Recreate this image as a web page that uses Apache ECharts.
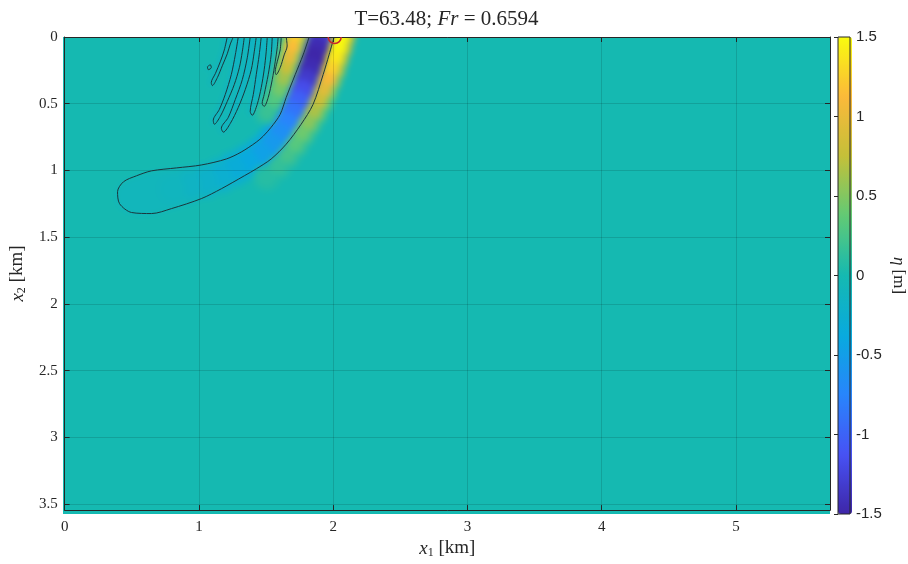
<!DOCTYPE html>
<html>
<head>
<meta charset="utf-8">
<script src="https://cdn.jsdelivr.net/npm/echarts@6.0.0/dist/echarts.min.js"></script>
<style>
  html, body { margin: 0; padding: 0; background: #fff; }
  #stage { position: relative; width: 908px; height: 564px; overflow: hidden; }
  /* the surface field is rendered on its own layer, softened, and clipped to the plot box */
  #fieldClip { position: absolute; left: 63px; top: 37px; width: 767px; height: 477px; overflow: hidden; }
  #field { position: absolute; left: -24px; top: -24px; width: 815px; height: 525px; filter: blur(3px); }
  #main { position: absolute; left: 0; top: 0; width: 908px; height: 564px; }
</style>
</head>
<body>
<div id="stage">
  <div id="fieldClip"><div id="field"></div></div>
  <div id="main"></div>
</div>
<script>
// ---- domain ----
const X_MAX = 5.7;      // x1 extent [km]
const Y_MAX = 3.545;    // x2 extent [km]
const ETA_MIN = -1.5;   // colour limits for eta [m]
const ETA_MAX = 1.5;
const X_INTERVAL = 1;
const Y_INTERVAL = 0.5;
const ETA_INTERVAL = 0.5;
const TIME = '63.48';
const FROUDE = '0.6594';

// parula-like colour map, evenly spaced from ETA_MIN to ETA_MAX
const PARULA = ['#3e26a8', '#4752f4', '#2885fc', '#08aade', '#15b9b1',
                '#61ca75', '#c4c039', '#fbb93a', '#f9fb0e'];

// ---- wake field: crest / trough ridge lines [x1, x2, eta on ridge, eta at ridge flank] ----
const troughBand = [
  [1.914, 0.00, -1.30, -0.70],
  [1.888, 0.08, -1.45, -0.80],
  [1.862, 0.16, -1.50, -0.82],
  [1.834, 0.24, -1.45, -0.80],
  [1.806, 0.32, -1.33, -0.74],
  [1.776, 0.40, -1.18, -0.66],
  [1.742, 0.48, -1.02, -0.58],
  [1.703, 0.56, -0.88, -0.52],
  [1.660, 0.64, -0.76, -0.46],
  [1.610, 0.72, -0.65, -0.40],
  [1.550, 0.80, -0.55, -0.35],
  [1.470, 0.87, -0.47, -0.30],
  [1.370, 0.93, -0.39, -0.26],
  [1.270, 0.98, -0.32, -0.22],
  [1.170, 1.03, -0.26, -0.18],
  [1.060, 1.07, -0.20, -0.15],
  [0.940, 1.10, -0.15, -0.12],
  [0.820, 1.13, -0.11, -0.09]
];
const leftCrest = [
  [1.724, 0.00, 1.25, 0.55],
  [1.702, 0.08, 1.15, 0.50],
  [1.680, 0.16, 0.98, 0.42],
  [1.657, 0.24, 0.80, 0.35],
  [1.632, 0.32, 0.62, 0.28],
  [1.600, 0.40, 0.45, 0.20],
  [1.560, 0.48, 0.30, 0.14],
  [1.515, 0.56, 0.18, 0.09]
];
const rightCrest = [
  [2.066, 0.00, 1.50, 0.75],
  [2.045, 0.08, 1.48, 0.72],
  [2.020, 0.16, 1.40, 0.66],
  [1.995, 0.24, 1.26, 0.60],
  [1.966, 0.32, 1.10, 0.52],
  [1.934, 0.40, 0.95, 0.45],
  [1.900, 0.48, 0.80, 0.38],
  [1.860, 0.56, 0.66, 0.32],
  [1.815, 0.64, 0.53, 0.26],
  [1.768, 0.72, 0.42, 0.21],
  [1.718, 0.80, 0.32, 0.16],
  [1.660, 0.88, 0.23, 0.12],
  [1.592, 0.96, 0.15, 0.09],
  [1.515, 1.04, 0.09, 0.06]
];

// ---- contour lines [x1, x2] ----
const OUTER_LEVEL = -0.08;   // eta inside the large closed contour
const RIPPLE_LEVEL = -0.2;   // eta inside the short ripple contours
const outerContour = [
  [2.007, 0.000], [1.969, 0.134], [1.925, 0.282], [1.850, 0.505], [1.761, 0.654],
  [1.650, 0.803], [1.538, 0.914], [1.427, 0.988], [1.338, 1.040], [1.167, 1.137],
  [1.018, 1.211], [0.795, 1.286], [0.647, 1.323], [0.498, 1.315], [0.409, 1.249],
  [0.394, 1.159], [0.438, 1.085], [0.535, 1.040], [0.647, 1.003], [0.832, 0.981],
  [1.018, 0.959], [1.204, 0.914], [1.315, 0.862], [1.427, 0.788], [1.479, 0.743],
  [1.538, 0.676], [1.605, 0.580], [1.650, 0.453], [1.717, 0.282], [1.776, 0.134],
  [1.821, 0.000]
];
const ripple1 = [
  [1.211, 0.000], [1.189, 0.097], [1.159, 0.186], [1.122, 0.275], [1.092, 0.342],
  [1.100, 0.364], [1.137, 0.305], [1.174, 0.216], [1.211, 0.126], [1.234, 0.052], [1.256, 0.000]
];
const ripple2 = [
  [1.293, 0.000], [1.271, 0.134], [1.241, 0.282], [1.196, 0.431], [1.152, 0.543], [1.107, 0.624],
  [1.115, 0.654], [1.159, 0.595], [1.211, 0.483], [1.263, 0.357], [1.301, 0.230], [1.323, 0.111], [1.338, 0.000]
];
const ripple3 = [
  [1.382, 0.000], [1.360, 0.156], [1.323, 0.320], [1.271, 0.468], [1.219, 0.602], [1.167, 0.684],
  [1.182, 0.713], [1.234, 0.647], [1.293, 0.528], [1.345, 0.394], [1.390, 0.245], [1.412, 0.111], [1.427, 0.000]
];
const ripple4 = [
  [1.464, 0.000], [1.449, 0.134], [1.427, 0.282], [1.405, 0.431], [1.382, 0.557],
  [1.397, 0.587], [1.434, 0.505], [1.464, 0.379], [1.486, 0.245], [1.501, 0.111], [1.509, 0.000]
];
const ripple5 = [
  [1.546, 0.000], [1.538, 0.134], [1.516, 0.282], [1.486, 0.431], [1.471, 0.498],
  [1.486, 0.520], [1.516, 0.453], [1.546, 0.320], [1.568, 0.186], [1.583, 0.082], [1.590, 0.000]
];
const ripple6 = [
  [1.613, 0.000], [1.605, 0.097], [1.583, 0.186], [1.568, 0.260],
  [1.575, 0.282], [1.605, 0.230], [1.635, 0.134], [1.657, 0.067], [1.650, 0.000]
];
const rippleDot = [[1.063, 0.223], [1.085, 0.208], [1.092, 0.230], [1.070, 0.245], [1.063, 0.223]];
const ripples = [ripple1, ripple2, ripple3, ripple4, ripple5, ripple6, rippleDot];

// source position marker [x1, x2]
const markerPos = [[2.011, 0.0]];

// ---- styling ----
const SERIF = '"Liberation Serif", "DejaVu Serif", serif';
const SANS = '"Liberation Sans", Arial, sans-serif';
const INK = '#262626';
const CONTOUR_INK = '#1b363c';
const ZERO_COLOUR = PARULA[4];
const GRID_BOX = { left: 63, top: 37, width: 767, height: 477 };
const PX_PER_KM = GRID_BOX.width / X_MAX;
const PAD_KM = 24 / PX_PER_KM;  // field layer overhang beyond the clipped plot box

// ================= field layer =================
const fieldChart = echarts.init(document.getElementById('field'), null, { renderer: 'canvas' });

function regionSeries(points, level) {
  return {
    type: 'custom',
    coordinateSystem: 'cartesian2d',
    silent: true,
    data: points.map(p => [p[0], p[1], level]),
    renderItem: (params, api) => {
      if (params.dataIndex !== 0) return null;
      return {
        type: 'polygon',
        shape: { points: points.map(p => api.coord([p[0], p[1]])), smooth: 0.35 },
        style: { fill: api.visual('color') }
      };
    }
  };
}
function ridgeSeries(points, size) {
  return { type: 'scatter', silent: true, data: points, symbolSize: size, itemStyle: { opacity: 1 } };
}

const fieldSeries = [regionSeries(outerContour, OUTER_LEVEL)];
ripples.forEach(r => fieldSeries.push(regionSeries(r, RIPPLE_LEVEL)));
const flankStart = fieldSeries.length;
fieldSeries.push(ridgeSeries(troughBand, 36));
fieldSeries.push(ridgeSeries(leftCrest, 26));
fieldSeries.push(ridgeSeries(rightCrest, 28));
const ridgeStart = fieldSeries.length;
fieldSeries.push(ridgeSeries(troughBand, 23));
fieldSeries.push(ridgeSeries(leftCrest, 16));
fieldSeries.push(ridgeSeries(rightCrest, 17));

const valueSeries = [];
for (let i = 0; i < flankStart; i++) valueSeries.push(i);
for (let i = ridgeStart; i < fieldSeries.length; i++) valueSeries.push(i);

fieldChart.setOption({
  animation: false,
  grid: { left: 0, top: 0, right: 0, bottom: 0, show: true, backgroundColor: ZERO_COLOUR, borderWidth: 0 },
  xAxis: { type: 'value', min: -PAD_KM, max: X_MAX + PAD_KM, show: false },
  yAxis: { type: 'value', min: -PAD_KM, max: Y_MAX + PAD_KM, inverse: true, show: false },
  visualMap: [
    { type: 'continuous', show: false, min: ETA_MIN, max: ETA_MAX, dimension: 2,
      seriesIndex: valueSeries, inRange: { color: PARULA } },
    { type: 'continuous', show: false, min: ETA_MIN, max: ETA_MAX, dimension: 3,
      seriesIndex: [flankStart, flankStart + 1, flankStart + 2], inRange: { color: PARULA } }
  ],
  series: fieldSeries
});

// ================= axes, contours, colour bar =================
const mainChart = echarts.init(document.getElementById('main'), null, { renderer: 'canvas' });

const tickStyle = { inside: true, length: 5, lineStyle: { color: INK, width: 1 } };
const lineStyle = { show: true, onZero: false, lineStyle: { color: INK, width: 1 } };

const contourSeries = [outerContour].concat(ripples).map(c => ({
  type: 'line', xAxisIndex: 0, yAxisIndex: 0, data: c, smooth: 0.3, symbol: 'none', silent: true,
  lineStyle: { color: CONTOUR_INK, width: 1 }, clip: true, z: 3
}));

// source marker: a ring cut by the plot box
const markerSeries = {
  type: 'custom', xAxisIndex: 0, yAxisIndex: 0, data: markerPos, silent: true, z: 4,
  renderItem: (params, api) => {
    const c = api.coord([api.value(0), api.value(1)]);
    const box = params.coordSys;
    return {
      type: 'circle',
      shape: { cx: c[0], cy: c[1], r: 6.5 },
      style: { fill: 'none', stroke: '#c8282e', lineWidth: 1.5 },
      clipPath: { type: 'rect', shape: { x: box.x, y: box.y, width: box.width, height: box.height } }
    };
  }
};

const nameRich = {
  i: { fontFamily: SERIF, fontStyle: 'italic', fontSize: 19, color: INK },
  s: { fontFamily: SERIF, fontSize: 12, color: INK, padding: [9, 0, 0, 0] },
  r: { fontFamily: SERIF, fontSize: 19, color: INK }
};

mainChart.setOption({
  animation: false,
  grid: [
    { left: GRID_BOX.left, top: GRID_BOX.top, width: GRID_BOX.width, height: GRID_BOX.height, show: false },
    { left: 838, top: 37, width: 14, height: 477, show: true, borderColor: INK, borderWidth: 1,
      backgroundColor: 'transparent', z: 10 }
  ],
  xAxis: [
    { gridIndex: 0, type: 'value', min: 0, max: X_MAX, interval: X_INTERVAL, position: 'bottom',
      axisLine: lineStyle, axisTick: tickStyle,
      axisLabel: { fontFamily: SERIF, fontSize: 15, color: INK, margin: 9, showMaxLabel: false },
      splitLine: { show: true, lineStyle: { color: 'rgba(0,0,0,0.13)', width: 1 } },
      name: '{i|x}{s|1}{r| [km]}', nameLocation: 'middle', nameGap: 25,
      nameTextStyle: { color: INK, rich: nameRich } },
    { gridIndex: 0, type: 'value', min: 0, max: X_MAX, interval: X_INTERVAL, position: 'top',
      axisLine: lineStyle, axisTick: tickStyle, axisLabel: { show: false }, splitLine: { show: false } },
    { gridIndex: 1, type: 'value', min: 0, max: 1, show: false }
  ],
  yAxis: [
    { gridIndex: 0, type: 'value', min: 0, max: Y_MAX, interval: Y_INTERVAL, inverse: true, position: 'left',
      axisLine: lineStyle, axisTick: tickStyle,
      axisLabel: { fontFamily: SERIF, fontSize: 15, color: INK, margin: 7, showMaxLabel: false },
      splitLine: { show: true, lineStyle: { color: 'rgba(0,0,0,0.13)', width: 1 } },
      name: '{i|x}{s|2}{r| [km]}', nameLocation: 'middle', nameGap: 29, nameRotate: 90,
      nameTextStyle: { color: INK, rich: nameRich } },
    { gridIndex: 0, type: 'value', min: 0, max: Y_MAX, interval: Y_INTERVAL, inverse: true, position: 'right',
      axisLine: lineStyle, axisTick: tickStyle, axisLabel: { show: false }, splitLine: { show: false } },
    { gridIndex: 1, type: 'value', min: ETA_MIN, max: ETA_MAX, interval: ETA_INTERVAL, position: 'right', z: 10,
      axisLine: { show: false }, axisTick: { inside: true, length: 4, lineStyle: { color: INK } },
      axisLabel: { fontFamily: SANS, fontSize: 15, color: INK, margin: 6 },
      splitLine: { show: false },
      name: '{i|η}{r| [m]}', nameLocation: 'middle', nameGap: 40, nameRotate: -90,
      nameTextStyle: { color: INK, rich: {
        i: { fontFamily: SERIF, fontStyle: 'italic', fontSize: 17, color: INK },
        r: { fontFamily: SERIF, fontSize: 17, color: INK } } } }
  ],
  visualMap: {
    type: 'continuous', show: true, min: ETA_MIN, max: ETA_MAX, seriesIndex: [],
    left: 838, top: 37, itemWidth: 14, itemHeight: 477, padding: 0,
    calculable: false, text: null, showLabel: false, inRange: { color: PARULA }
  },
  graphic: [{
    type: 'text', x: GRID_BOX.left + GRID_BOX.width / 2, y: 19,
    style: {
      text: '{r|T=' + TIME + '; }{i|Fr}{r| = ' + FROUDE + '}',
      align: 'center', verticalAlign: 'middle',
      rich: {
        r: { fontFamily: SERIF, fontSize: 21, fill: INK },
        i: { fontFamily: SERIF, fontStyle: 'italic', fontSize: 21, fill: INK }
      }
    }
  }],
  series: contourSeries.concat([markerSeries])
});
</script>
</body>
</html>
